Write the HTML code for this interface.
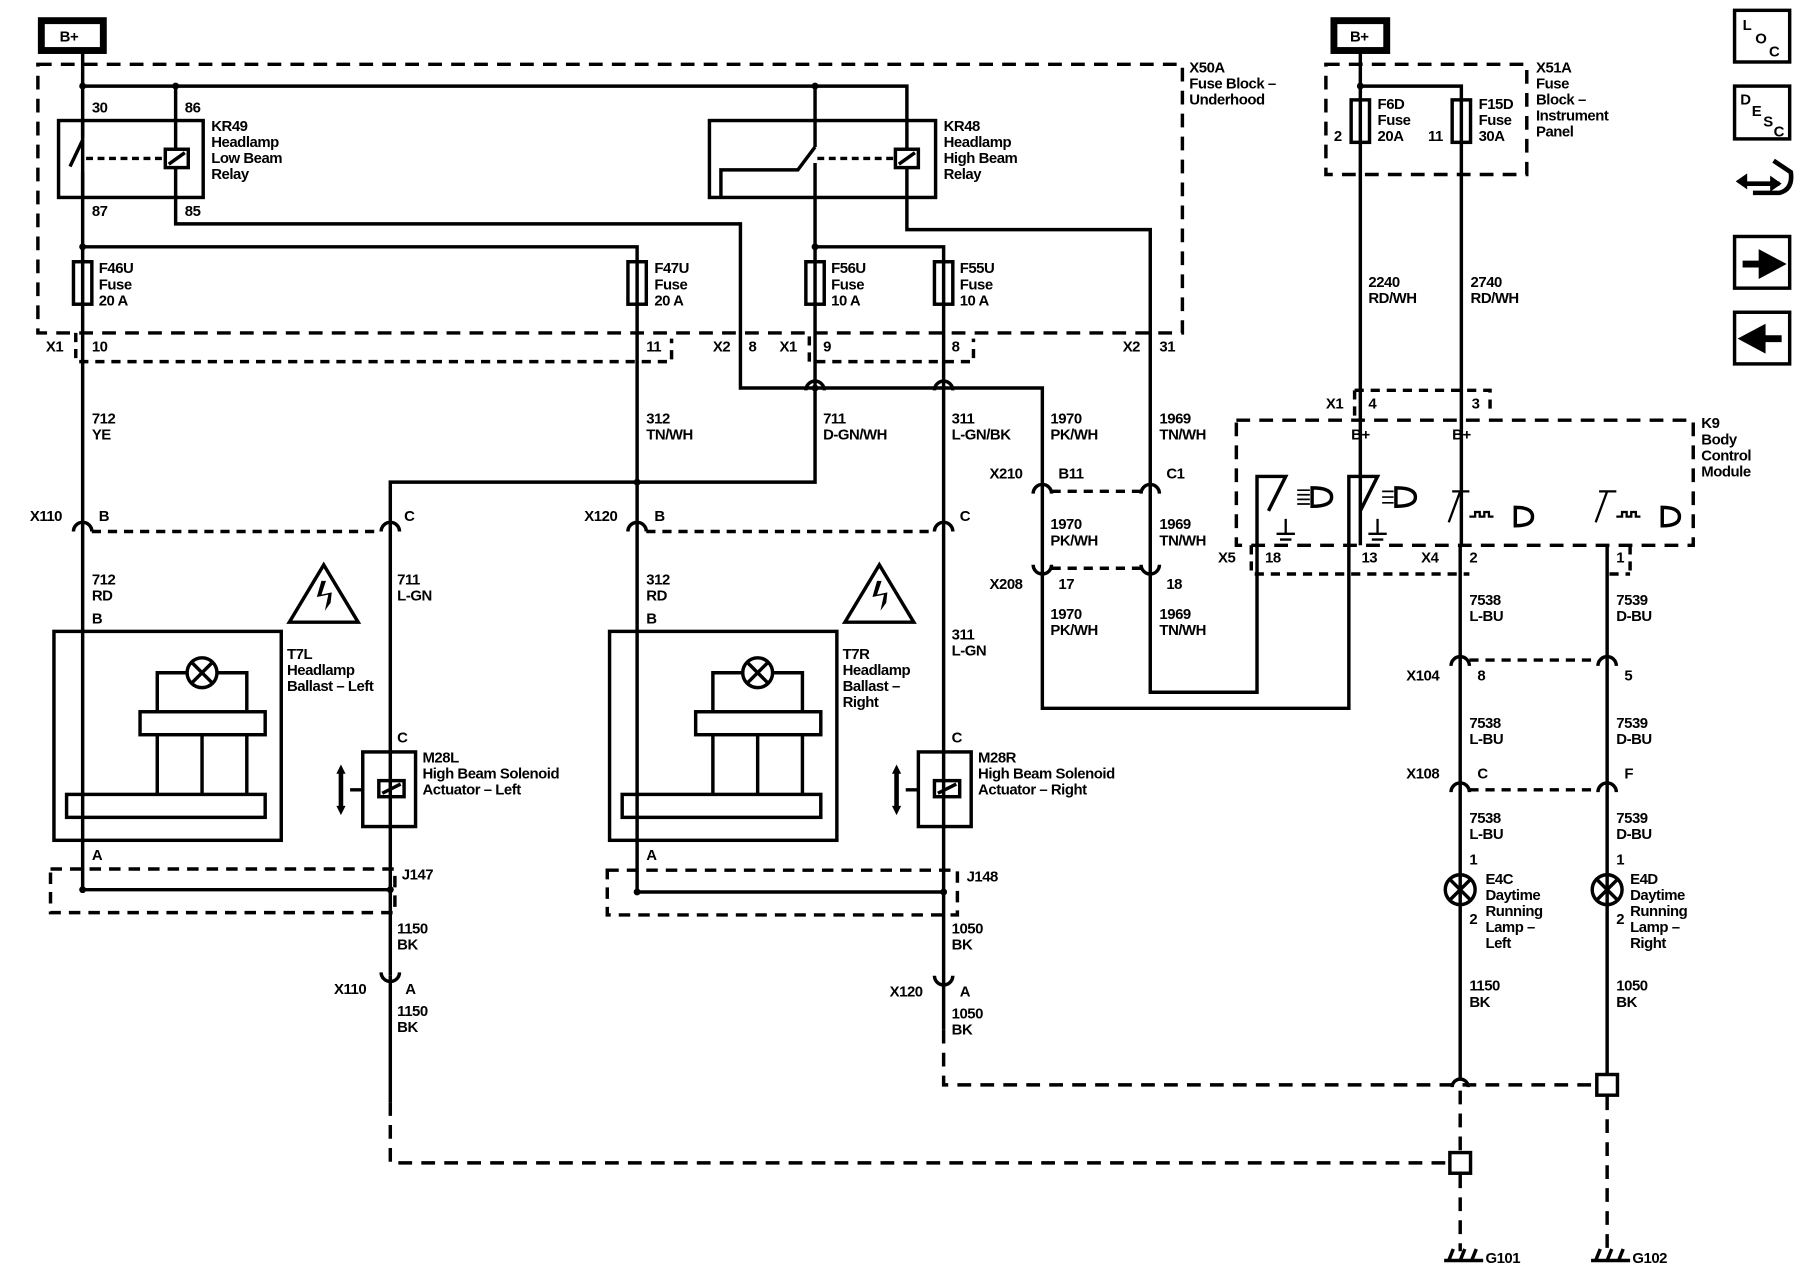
<!DOCTYPE html>
<html><head><meta charset="utf-8"><style>
html,body{margin:0;padding:0;background:#fff;}
svg{display:block;}
text{font-family:"Liberation Sans",sans-serif;font-size:13px;font-weight:bold;fill:#000;letter-spacing:-0.4px;}
</style></head><body>
<svg width="1800" height="1280" viewBox="0 0 1568 1115" preserveAspectRatio="none" xmlns="http://www.w3.org/2000/svg">
<g fill="none" stroke="#000" stroke-width="3">
<!-- B+ boxes -->
<rect x="36" y="18" width="54" height="26" stroke-width="6"/>
<rect x="1162" y="18" width="46" height="26" stroke-width="6"/>
<!-- X50A dashed -->
<rect x="33" y="56" width="997" height="234" stroke-dasharray="12,8"/>
<!-- X51A dashed -->
<rect x="1155" y="56" width="175" height="96" stroke-dasharray="12,8"/>
<!-- K9 dashed -->
<rect x="1077" y="366" width="398" height="109" stroke-dasharray="12,8"/>
<!-- X1/X2 connector dashed (bottom of fuse block) -->
<path d="M66 290 V315 H585 V295" stroke-dasharray="8,6"/>
<path d="M705 293 V315 H848 V295" stroke-dasharray="8,6"/>
<path d="M1180 340 V362 M1180 340 H1298 V360" stroke-dasharray="8,6"/>
<!-- main wires -->
<path d="M72 46 V775"/>
<path d="M72 75 H790 V130 M790 146 V200 H1002 V603 H1095 V415 H1120 L1105 445"/>
<path d="M153 75 V130 M153 146 V195 H645 V338 H908 V617 H1175 V415 H1200 L1185 445"/>
<path d="M710 75 V128 M710 142 V420 H340 V850"/>
<path d="M72 215 H555 V775"/>
<path d="M710 215 H822 V897"/>
<path d="M340 850 V960"/>
<path d="M340 960 V1013 H1262" stroke-dasharray="12,8"/>
<path d="M822 897 V945 H1390" stroke-dasharray="12,8"/>
<!-- right side -->
<path d="M1185 46 V475 M1185 75 H1273 V475"/>
<path d="M1272 475 V940"/>
<path d="M1400 475 V935"/>
<path d="M1272 950 V1003 M1272 1023 V1090 M1400 955 V1090" stroke-dasharray="12,8"/>
<rect x="1263" y="1004" width="18" height="18"/>
<rect x="1391" y="936" width="18" height="18"/>
<path d="M1265 947 A7 7 0 0 1 1279 947" />
<!-- relays -->
<rect x="51" y="105" width="126" height="67"/>
<rect x="144" y="130" width="20" height="16"/>
<path d="M147 143 L161 133"/>
<path d="M72 122 L61 145 M72 150 V172 M72 105 V120" />
<path d="M75 138 H144" stroke-dasharray="6,4"/>
<rect x="618" y="105" width="197" height="67"/>
<rect x="780" y="130" width="20" height="16"/>
<path d="M783 143 L797 133"/>
<path d="M628 172 V148 H695 L710 128" />
<path d="M712 138 H780" stroke-dasharray="6,4"/>
<!-- fuses -->
<rect x="64" y="228" width="16" height="37"/><rect x="547" y="228" width="16" height="37"/>
<rect x="702" y="228" width="16" height="37"/><rect x="814" y="228" width="16" height="37"/>
<rect x="1177" y="87" width="16" height="37"/><rect x="1265" y="87" width="16" height="37"/>
<!-- ballasts -->
<rect x="47" y="550" width="198" height="182"/>
<circle cx="176" cy="586" r="13"/><path d="M167 577 L185 595 M185 577 L167 595"/>
<path d="M163 586 H137 V620 M189 586 H215 V620 M137 640 V692 M176 640 V692 M215 640 V692"/>
<rect x="122" y="620" width="109" height="20"/><rect x="58" y="692" width="173" height="20"/>
<g transform="translate(484,0)">
<rect x="47" y="550" width="198" height="182"/>
<circle cx="176" cy="586" r="13"/><path d="M167 577 L185 595 M185 577 L167 595"/>
<path d="M163 586 H137 V620 M189 586 H215 V620 M137 640 V692 M176 640 V692 M215 640 V692"/>
<rect x="122" y="620" width="109" height="20"/><rect x="58" y="692" width="173" height="20"/>
</g>
<!-- warning triangles -->
<path d="M252 542 L282 492 L312 542 Z"/><path d="M736 542 L766 492 L796 542 Z"/>
<!-- solenoids -->
<rect x="316" y="655" width="46" height="65"/><rect x="330" y="680" width="22" height="14"/><path d="M333 691 L349 683 M305 688 H316"/>
<rect x="800" y="655" width="46" height="65"/><rect x="814" y="680" width="22" height="14"/><path d="M817 691 L833 683 M789 688 H800"/>
<!-- J147/J148 -->
<rect x="44" y="757" width="300" height="38" stroke-dasharray="10,7"/>
<path d="M72 775 H340"/>
<rect x="529" y="758" width="305" height="39" stroke-dasharray="10,7"/>
<path d="M555 777 H822"/>
<!-- connector dashed links -->
<path d="M80 463 H332 M563 463 H814 M916 428 H994 M916 495 H994 M1280 575 H1392 M1280 688 H1392" stroke-dasharray="8,6"/>
<path d="M1090 475 V500 H1280 M1420 475 V500 M1402 500 H1420" stroke-dasharray="8,6"/>
<!-- female connector arcs -->
<g stroke-width="3">
<path d="M64 463 A8 8 0 0 1 80 463"/><path d="M332 463 A8 8 0 0 1 348 463"/>
<path d="M547 463 A8 8 0 0 1 563 463"/><path d="M814 463 A8 8 0 0 1 830 463"/>
<path d="M900 430 A8 8 0 0 1 916 430"/><path d="M994 430 A8 8 0 0 1 1010 430"/>
<path d="M1264 580 A8 8 0 0 1 1280 580"/><path d="M1392 580 A8 8 0 0 1 1408 580"/>
<path d="M1264 690 A8 8 0 0 1 1280 690"/><path d="M1392 690 A8 8 0 0 1 1408 690"/>
<path d="M900 492 A8 8 0 0 0 916 492"/><path d="M994 492 A8 8 0 0 0 1010 492"/>
<path d="M332 847 A8 8 0 0 0 348 847"/><path d="M814 850 A8 8 0 0 0 830 850"/>
<path d="M814 340 A8 8 0 0 1 830 340"/>
<path d="M702 340 A8 8 0 0 1 718 340"/>
</g>
<!-- lamps -->
<circle cx="1272" cy="775" r="13"/><path d="M1263 766 L1281 784 M1281 766 L1263 784"/>
<circle cx="1400" cy="775" r="13"/><path d="M1391 766 L1409 784 M1409 766 L1391 784"/>
<!-- grounds -->
<path d="M1258 1098 H1292 M1262 1098 L1266 1088 M1272 1098 L1276 1088 M1282 1098 L1286 1088"/>
<path d="M1386 1098 H1420 M1390 1098 L1394 1088 M1400 1098 L1404 1088 M1410 1098 L1414 1088"/>
<!-- K9 symbols -->
<path d="M1120 452 V465 M1112 465 H1128 M1115 470 H1125 M1118 475 H1122" stroke-width="2"/>
<path d="M1200 452 V465 M1192 465 H1208 M1195 470 H1205 M1198 475 H1202" stroke-width="2"/>
<path d="M1143 425 Q1160 425 1160 433 Q1160 441 1143 441 Z M1216 425 Q1233 425 1233 433 Q1233 441 1216 441 Z M1320 442 Q1335 442 1335 450 Q1335 458 1320 458 Z M1448 442 Q1463 442 1463 450 Q1463 458 1448 458 Z"/>
<path d="M1130 427 H1141 M1130 431 H1141 M1130 435 H1141 M1130 439 H1141 M1204 428 H1214 M1204 433 H1214 M1204 438 H1214" stroke-width="1.5"/>
<path d="M1265 428 H1280 M1272 428 L1262 455 M1280 450 H1285 V446 H1289 V450 H1293 V446 H1297 V450 H1301" stroke-width="2"/>
<path d="M1393 428 H1408 M1400 428 L1390 455 M1408 450 H1413 V446 H1417 V450 H1421 V446 H1425 V450 H1429" stroke-width="2"/>
<!-- side icons -->
<rect x="1511" y="9" width="48" height="45"/><rect x="1511" y="75" width="48" height="46"/>
<rect x="1511" y="206" width="48" height="45"/><rect x="1511" y="272" width="48" height="45"/>
<path d="M1520 160 H1550 M1527 168 H1550 Q1562 165 1560 150 L1545 140" stroke-width="4"/>
</g>
<!-- filled parts -->
<g fill="#000">
<circle cx="72" cy="75" r="3"/><circle cx="153" cy="75" r="3"/><circle cx="710" cy="75" r="3"/>
<circle cx="72" cy="215" r="3"/><circle cx="710" cy="215" r="3"/><circle cx="710" cy="338" r="3"/>
<circle cx="555" cy="420" r="3"/><circle cx="1185" cy="75" r="3"/>
<circle cx="72" cy="775" r="3"/><circle cx="340" cy="775" r="3"/><circle cx="555" cy="777" r="3"/><circle cx="822" cy="777" r="3"/>
<path d="M1518 230 H1535 V222 L1550 230 L1535 238 V230Z" stroke="#000" stroke-width="6"/>
<path d="M1552 295 H1535 V287 L1520 295 L1535 303 V295Z" stroke="#000" stroke-width="6"/>
<path d="M1512 158 L1522 151 V165Z M1552 160 L1542 153 V167Z"/>
<path d="M297 666 L293 674 H301Z M297 710 L293 702 H301Z M781 666 L777 674 H785Z M781 710 L777 702 H785Z"/>
<rect x="295" y="672" width="4" height="32"/><rect x="779" y="672" width="4" height="32"/>
<path d="M280 506 L276 520 L286 518 L283 532 L288 525 L289 516 L280 518 L284 506Z M764 506 L760 520 L770 518 L767 532 L772 525 L773 516 L764 518 L768 506Z"/>
</g>
<!-- text -->
<text x="52" y="36">B+</text><text x="1176" y="36">B+</text>
<text x="1036" y="63"><tspan x="1036">X50A</tspan><tspan x="1036" dy="14">Fuse Block –</tspan><tspan x="1036" dy="14">Underhood</tspan></text>
<text x="1338" y="63"><tspan x="1338">X51A</tspan><tspan x="1338" dy="14">Fuse</tspan><tspan x="1338" dy="14">Block –</tspan><tspan x="1338" dy="14">Instrument</tspan><tspan x="1338" dy="14">Panel</tspan></text>
<text x="80" y="98">30</text><text x="161" y="98">86</text><text x="80" y="188">87</text><text x="161" y="188">85</text>
<text x="184" y="114"><tspan x="184">KR49</tspan><tspan x="184" dy="14">Headlamp</tspan><tspan x="184" dy="14">Low Beam</tspan><tspan x="184" dy="14">Relay</tspan></text>
<text x="822" y="114"><tspan x="822">KR48</tspan><tspan x="822" dy="14">Headlamp</tspan><tspan x="822" dy="14">High Beam</tspan><tspan x="822" dy="14">Relay</tspan></text>
<text x="86" y="238"><tspan x="86">F46U</tspan><tspan x="86" dy="14">Fuse</tspan><tspan x="86" dy="14">20 A</tspan></text>
<text x="570" y="238"><tspan x="570">F47U</tspan><tspan x="570" dy="14">Fuse</tspan><tspan x="570" dy="14">20 A</tspan></text>
<text x="724" y="238"><tspan x="724">F56U</tspan><tspan x="724" dy="14">Fuse</tspan><tspan x="724" dy="14">10 A</tspan></text>
<text x="836" y="238"><tspan x="836">F55U</tspan><tspan x="836" dy="14">Fuse</tspan><tspan x="836" dy="14">10 A</tspan></text>
<text x="1200" y="95"><tspan x="1200">F6D</tspan><tspan x="1200" dy="14">Fuse</tspan><tspan x="1200" dy="14">20A</tspan></text>
<text x="1288" y="95"><tspan x="1288">F15D</tspan><tspan x="1288" dy="14">Fuse</tspan><tspan x="1288" dy="14">30A</tspan></text>
<text x="1162" y="123">2</text><text x="1244" y="123">11</text>
<text x="40" y="306">X1</text><text x="80" y="306">10</text><text x="563" y="306">11</text>
<text x="621" y="306">X2</text><text x="652" y="306">8</text><text x="679" y="306">X1</text><text x="717" y="306">9</text><text x="829" y="306">8</text>
<text x="978" y="306">X2</text><text x="1010" y="306">31</text>
<text x="1192" y="250"><tspan x="1192">2240</tspan><tspan x="1192" dy="14">RD/WH</tspan></text>
<text x="1281" y="250"><tspan x="1281">2740</tspan><tspan x="1281" dy="14">RD/WH</tspan></text>
<text x="1155" y="356">X1</text><text x="1192" y="356">4</text><text x="1282" y="356">3</text>
<text x="1177" y="383">B+</text><text x="1265" y="383">B+</text>
<text x="1482" y="373"><tspan x="1482">K9</tspan><tspan x="1482" dy="14">Body</tspan><tspan x="1482" dy="14">Control</tspan><tspan x="1482" dy="14">Module</tspan></text>
<text x="80" y="369"><tspan x="80">712</tspan><tspan x="80" dy="14">YE</tspan></text>
<text x="563" y="369"><tspan x="563">312</tspan><tspan x="563" dy="14">TN/WH</tspan></text>
<text x="717" y="369"><tspan x="717">711</tspan><tspan x="717" dy="14">D-GN/WH</tspan></text>
<text x="829" y="369"><tspan x="829">311</tspan><tspan x="829" dy="14">L-GN/BK</tspan></text>
<text x="915" y="369"><tspan x="915">1970</tspan><tspan x="915" dy="14">PK/WH</tspan></text>
<text x="1010" y="369"><tspan x="1010">1969</tspan><tspan x="1010" dy="14">TN/WH</tspan></text>
<text x="862" y="417">X210</text><text x="922" y="417">B11</text><text x="1016" y="417">C1</text>
<text x="915" y="461"><tspan x="915">1970</tspan><tspan x="915" dy="14">PK/WH</tspan></text>
<text x="1010" y="461"><tspan x="1010">1969</tspan><tspan x="1010" dy="14">TN/WH</tspan></text>
<text x="862" y="513">X208</text><text x="922" y="513">17</text><text x="1016" y="513">18</text>
<text x="915" y="539"><tspan x="915">1970</tspan><tspan x="915" dy="14">PK/WH</tspan></text>
<text x="1010" y="539"><tspan x="1010">1969</tspan><tspan x="1010" dy="14">TN/WH</tspan></text>
<text x="1061" y="490">X5</text><text x="1102" y="490">18</text><text x="1186" y="490">13</text>
<text x="1238" y="490">X4</text><text x="1280" y="490">2</text><text x="1408" y="490">1</text>
<text x="26" y="454">X110</text><text x="86" y="454">B</text><text x="352" y="454">C</text>
<text x="509" y="454">X120</text><text x="570" y="454">B</text><text x="836" y="454">C</text>
<text x="80" y="509"><tspan x="80">712</tspan><tspan x="80" dy="14">RD</tspan></text>
<text x="80" y="543">B</text>
<text x="346" y="509"><tspan x="346">711</tspan><tspan x="346" dy="14">L-GN</tspan></text>
<text x="563" y="509"><tspan x="563">312</tspan><tspan x="563" dy="14">RD</tspan></text>
<text x="563" y="543">B</text>
<text x="829" y="557"><tspan x="829">311</tspan><tspan x="829" dy="14">L-GN</tspan></text>
<text x="250" y="574"><tspan x="250">T7L</tspan><tspan x="250" dy="14">Headlamp</tspan><tspan x="250" dy="14">Ballast – Left</tspan></text>
<text x="734" y="574"><tspan x="734">T7R</tspan><tspan x="734" dy="14">Headlamp</tspan><tspan x="734" dy="14">Ballast –</tspan><tspan x="734" dy="14">Right</tspan></text>
<text x="346" y="647">C</text><text x="829" y="647">C</text>
<text x="368" y="664"><tspan x="368">M28L</tspan><tspan x="368" dy="14">High Beam Solenoid</tspan><tspan x="368" dy="14">Actuator – Left</tspan></text>
<text x="852" y="664"><tspan x="852">M28R</tspan><tspan x="852" dy="14">High Beam Solenoid</tspan><tspan x="852" dy="14">Actuator – Right</tspan></text>
<text x="80" y="749">A</text><text x="563" y="749">A</text>
<text x="350" y="766">J147</text><text x="842" y="768">J148</text>
<text x="346" y="813"><tspan x="346">1150</tspan><tspan x="346" dy="14">BK</tspan></text>
<text x="829" y="813"><tspan x="829">1050</tspan><tspan x="829" dy="14">BK</tspan></text>
<text x="291" y="866">X110</text><text x="353" y="866">A</text>
<text x="775" y="868">X120</text><text x="836" y="868">A</text>
<text x="346" y="885"><tspan x="346">1150</tspan><tspan x="346" dy="14">BK</tspan></text>
<text x="829" y="887"><tspan x="829">1050</tspan><tspan x="829" dy="14">BK</tspan></text>
<text x="1280" y="527"><tspan x="1280">7538</tspan><tspan x="1280" dy="14">L-BU</tspan></text>
<text x="1408" y="527"><tspan x="1408">7539</tspan><tspan x="1408" dy="14">D-BU</tspan></text>
<text x="1225" y="593">X104</text><text x="1287" y="593">8</text><text x="1415" y="593">5</text>
<text x="1280" y="634"><tspan x="1280">7538</tspan><tspan x="1280" dy="14">L-BU</tspan></text>
<text x="1408" y="634"><tspan x="1408">7539</tspan><tspan x="1408" dy="14">D-BU</tspan></text>
<text x="1225" y="678">X108</text><text x="1287" y="678">C</text><text x="1415" y="678">F</text>
<text x="1280" y="717"><tspan x="1280">7538</tspan><tspan x="1280" dy="14">L-BU</tspan></text>
<text x="1408" y="717"><tspan x="1408">7539</tspan><tspan x="1408" dy="14">D-BU</tspan></text>
<text x="1280" y="753">1</text><text x="1408" y="753">1</text>
<text x="1280" y="805">2</text><text x="1408" y="805">2</text>
<text x="1294" y="770"><tspan x="1294">E4C</tspan><tspan x="1294" dy="14">Daytime</tspan><tspan x="1294" dy="14">Running</tspan><tspan x="1294" dy="14">Lamp –</tspan><tspan x="1294" dy="14">Left</tspan></text>
<text x="1420" y="770"><tspan x="1420">E4D</tspan><tspan x="1420" dy="14">Daytime</tspan><tspan x="1420" dy="14">Running</tspan><tspan x="1420" dy="14">Lamp –</tspan><tspan x="1420" dy="14">Right</tspan></text>
<text x="1280" y="863"><tspan x="1280">1150</tspan><tspan x="1280" dy="14">BK</tspan></text>
<text x="1408" y="863"><tspan x="1408">1050</tspan><tspan x="1408" dy="14">BK</tspan></text>
<text x="1294" y="1100">G101</text><text x="1422" y="1100">G102</text>
<text x="1518" y="26">L</text><text x="1529" y="38">O</text><text x="1541" y="49">C</text>
<text x="1516" y="91">D</text><text x="1526" y="101">E</text><text x="1536" y="110">S</text><text x="1545" y="119">C</text>
</svg>
</body></html>
